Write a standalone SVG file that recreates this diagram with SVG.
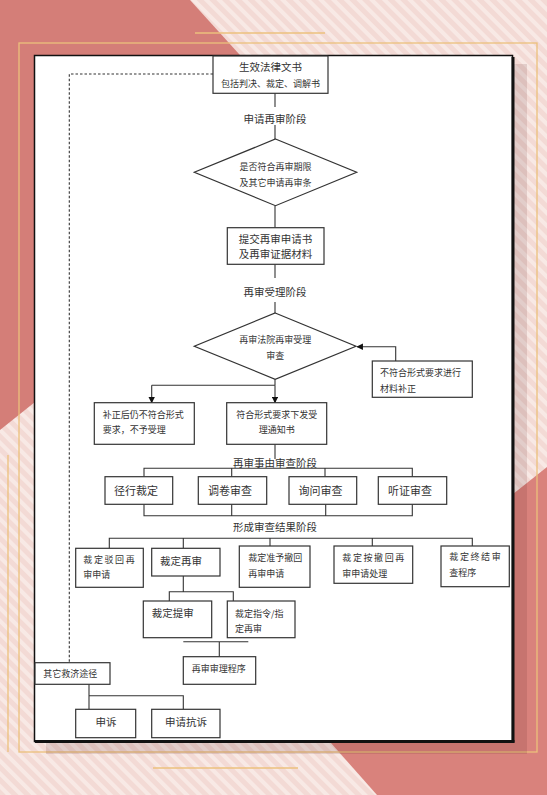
<svg xmlns="http://www.w3.org/2000/svg" width="547" height="795" viewBox="0 0 547 795">
<style>
.box{fill:#fff;stroke:#333;stroke-width:1.2}
.ln{fill:none;stroke:#333;stroke-width:1.1}
.t{font-family:"Noto Sans CJK SC","Liberation Serif",serif;fill:#333;font-size:10.5px}
.s{font-size:9px}
.c{text-anchor:middle}
.sp{letter-spacing:1.6px}
.gold{fill:none;stroke:#ecc07c;stroke-width:1.3}
</style>
<defs>
<pattern id="stripes" patternUnits="userSpaceOnUse" width="9" height="9" patternTransform="rotate(-45)">
<rect width="9" height="9" fill="#f3dad5"/>
<rect width="4" height="9" fill="#f8e9e5"/>
</pattern>
<marker id="arr" viewBox="0 0 10 10" refX="9" refY="5" markerWidth="6" markerHeight="6" orient="auto">
<path d="M0,0 L10,5 L0,10 z" fill="#111"/>
</marker>
</defs>

<g id="background">
<rect width="547" height="795" fill="url(#stripes)"/>
<polygon points="0,0 190,0 336,161 0,430" fill="#d47e78"/>
<polygon points="277,682 547,467 547,795 377,795" fill="#d9827c"/>
<rect x="19" y="43" width="518" height="709" class="gold"/>
<line x1="8" y1="455" x2="8" y2="752" class="gold"/>
<line x1="195" y1="33" x2="325" y2="33" class="gold"/>
<line x1="153" y1="768" x2="298" y2="768" class="gold"/>
<rect x="46" y="64" width="481" height="690" fill="#4a1a1a" opacity="0.13"/>
</g>

<g id="panel">
<rect x="34.5" y="55.5" width="478" height="686" fill="#fff" stroke="#111" stroke-width="1.5"/>
<line x1="513" y1="57" x2="513" y2="742.5" stroke="#111" stroke-width="3"/>
<line x1="35" y1="741.5" x2="514.5" y2="741.5" stroke="#111" stroke-width="3"/>
</g>

<g id="connectors">
<path class="ln" d="M275,93 V107 M275,125 V139 M275,206 V227.7 M275,264.3 V278 M275,302 V313"/>
<path class="ln" d="M395.7,361 V346.7 H357" marker-end="url(#arr)"/>
<path class="ln" d="M275,379.3 V385.3 M151.7,385.3 H275"/>
<path class="ln" d="M151.7,385.3 V402.7" marker-end="url(#arr)"/>
<path class="ln" d="M275,385.3 V402.7" marker-end="url(#arr)"/>
<path class="ln" d="M275,444.3 V459"/>
<path class="ln" d="M144,476.7 V468.3 H412.3 V476.7 M231.7,468.3 V476.7 M325,468.3 V476.7"/>
<path class="ln" d="M144,504.3 V515.7 H412.3 V504.3 M231.7,504.3 V515.7 M325.7,504.3 V515.7"/>
<path class="ln" d="M109.3,548.3 V538.3 H472.3 V546 M183.3,538.3 V548.3 M270,538.3 V546 M372.3,538.3 V546"/>
<path class="ln" d="M183.3,576 V591.7 M169.3,601 V591.7 H233.3 V601"/>
<path class="ln" d="M183.3,641.7 H248.3 M219.3,641.7 V656.7"/>
<path class="ln" d="M213,74 H69.3 V662.7" stroke-dasharray="2.5,2"/>
<path class="ln" d="M89,684.3 V709.3 M89,695.7 H183.3 V709.3"/>
</g>

<g id="n-doc">
<rect class="box" x="213" y="56" width="115" height="37.3"/>
<text class="t c" x="270.5" y="71">生效法律文书</text>
<text class="t s c" x="270.5" y="87">包括判决、裁定、调解书</text>
</g>
<g id="l-apply"><text class="t c" x="275" y="123">申请再审阶段</text></g>
<g id="n-cond">
<polygon class="box" points="275.5,139 356.7,172.3 275.5,205.7 194.3,172.3"/>
<text class="t s c" x="275.5" y="169.5">是否符合再审期限</text>
<text class="t s c" x="275.5" y="185.5">及其它申请再审条</text>
</g>
<g id="n-submit">
<rect class="box" x="227.3" y="227.7" width="96.7" height="36.6"/>
<text class="t c" x="275.5" y="243">提交再审申请书</text>
<text class="t c" x="275.5" y="257.5">及再审证据材料</text>
</g>
<g id="l-accept"><text class="t c" x="275" y="295.5">再审受理阶段</text></g>
<g id="n-review">
<polygon class="box" points="275.2,313 356,346.2 275.2,379.3 194.3,346.2"/>
<text class="t s c" x="275.2" y="343.3">再审法院再审受理</text>
<text class="t s c" x="275.2" y="358.5">审查</text>
</g>
<g id="n-fix">
<rect class="box" x="372.3" y="361" width="100" height="36.3"/>
<text class="t s" x="380" y="376">不符合形式要求进行</text>
<text class="t s" x="380" y="391.5">材料补正</text>
</g>
<g id="n-reject">
<rect class="box" x="94.3" y="402.7" width="100" height="41.6"/>
<text class="t s" x="102.7" y="418.3">补正后仍不符合形式</text>
<text class="t s" x="102.7" y="433.3">要求，不予受理</text>
</g>
<g id="n-notice">
<rect class="box" x="226.7" y="402.7" width="100" height="41.6"/>
<text class="t s c" x="276.7" y="418.3">符合形式要求下发受</text>
<text class="t s c" x="276.7" y="433.3">理通知书</text>
</g>
<g id="l-cause"><text class="t c" x="275" y="466.5">再审事由审查阶段</text></g>
<g id="n-direct">
<rect class="box" x="105" y="476.7" width="67.7" height="27.6"/>
<text class="t c" x="136" y="494.5" style="font-size:11px">径行裁定</text>
</g>
<g id="n-file">
<rect class="box" x="198.3" y="476.7" width="68.4" height="27.6"/>
<text class="t c" x="230" y="494.5" style="font-size:11px">调卷审查</text>
</g>
<g id="n-inquire">
<rect class="box" x="289" y="476.7" width="67.7" height="27.6"/>
<text class="t c" x="320.5" y="494.5" style="font-size:11px">询问审查</text>
</g>
<g id="n-hearing">
<rect class="box" x="378.3" y="476.7" width="68.4" height="27.6"/>
<text class="t c" x="410" y="494.5" style="font-size:11px">听证审查</text>
</g>
<g id="l-result"><text class="t c" x="275" y="530.5">形成审查结果阶段</text></g>
<g id="n-dismiss">
<rect class="box" x="75.7" y="548.3" width="67.6" height="39"/>
<text class="t s sp" x="83.3" y="562.5">裁定驳回再</text>
<text class="t s" x="83.3" y="578.3">审申请</text>
</g>
<g id="n-retrial">
<rect class="box" x="151.7" y="548.3" width="68.3" height="27.7"/>
<text class="t" x="160" y="564.5">裁定再审</text>
</g>
<g id="n-withdraw">
<rect class="box" x="239.3" y="546" width="70.7" height="41.3"/>
<text class="t s" x="248.3" y="560.5">裁定准予撤回</text>
<text class="t s" x="248.3" y="576.5">再审申请</text>
</g>
<g id="n-aswithdraw">
<rect class="box" x="334" y="546" width="78.7" height="37.3"/>
<text class="t s sp" x="342.3" y="560.5">裁定按撤回再</text>
<text class="t s" x="342.3" y="576.5">审申请处理</text>
</g>
<g id="n-terminate">
<rect class="box" x="441" y="546" width="68.3" height="40.7"/>
<text class="t s sp" x="449.3" y="560.3">裁定终结审</text>
<text class="t s" x="449.3" y="576.3">查程序</text>
</g>
<g id="n-bring">
<rect class="box" x="143.3" y="601" width="68.4" height="36.7"/>
<text class="t" x="151.7" y="617">裁定提审</text>
</g>
<g id="n-order">
<rect class="box" x="227.3" y="601" width="67.7" height="36.7"/>
<text class="t s" x="235" y="616.5">裁定指令/指</text>
<text class="t s" x="235" y="631.5">定再审</text>
</g>
<g id="n-procedure">
<rect class="box" x="183.3" y="656.7" width="72.4" height="27.6"/>
<text class="t s" x="191.7" y="671.5">再审审理程序</text>
</g>
<g id="n-other">
<rect class="box" x="35" y="662.7" width="75" height="21.6"/>
<text class="t s" x="43.3" y="676.5">其它救济途径</text>
</g>
<g id="n-appeal">
<rect class="box" x="75.7" y="709.3" width="60" height="28.4"/>
<text class="t c" x="106" y="725.5">申诉</text>
</g>
<g id="n-protest">
<rect class="box" x="151.7" y="709.3" width="68.3" height="28.4"/>
<text class="t c" x="186" y="725.5">申请抗诉</text>
</g>
</svg>
